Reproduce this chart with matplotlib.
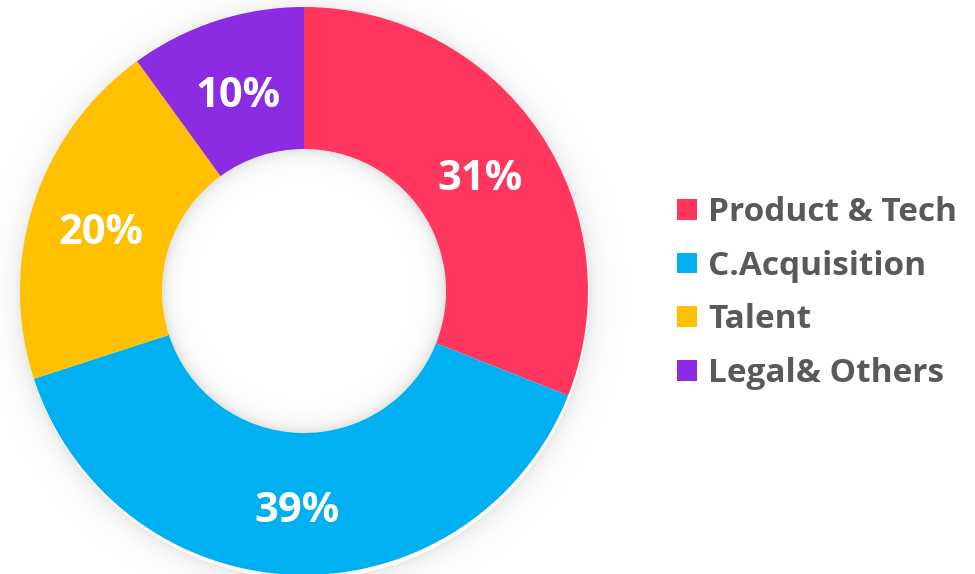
import numpy as np
import matplotlib.pyplot as plt
from matplotlib.patches import Wedge, Patch

labels = ['Product & Tech', 'C.Acquisition', 'Talent', 'Legal& Others']
shares = [31, 39, 20, 10]
colors = ['#FF375F', '#00B0F0', '#FFC000', '#8B2BE2']

fig = plt.figure(figsize=(9.75, 5.74), dpi=100)
ax = fig.add_axes([0, 0, 1, 1])
ax.set_xlim(0, 975)
ax.set_ylim(0, 574)
ax.set_aspect('equal')
ax.axis('off')

cx, cy = 304, 283
R = 284
w = 0.5

# soft shadow outside the ring
for k in range(1, 38):
    a = 0.08 * np.exp(-k / 10.0)
    ax.add_patch(Wedge((cx + 1, cy - 4), R + k, 0, 360, width=1.2,
                       color='black', alpha=a, lw=0, zorder=0))
# inner shadow in the hole
for k in range(1, 34):
    a = 0.1 * np.exp(-k / 8.0)
    ax.add_patch(Wedge((cx, cy), R * (1 - w) - k + 1, 0, 360, width=1.2,
                       color='black', alpha=a, lw=0, zorder=3))

wedges, texts, autotexts = ax.pie(
    shares, colors=colors, startangle=90, counterclock=False,
    center=(cx, cy), radius=R, autopct='%d%%', pctdistance=0.75,
    wedgeprops=dict(width=R * w, linewidth=0),
    textprops=dict(color='white', fontsize=30, fontweight='bold',
                   family='Open Sans'))
ax.set_xlim(0, 975)
ax.set_ylim(0, 574)
for wd in wedges:
    wd.set_zorder(2)
for t in autotexts:
    t.set_zorder(4)
    t.set_va('center_baseline')
    x, y = t.get_position()
    t.set_position((x, y - 3))

handles = [Patch(facecolor=c, edgecolor='none') for c in colors]
leg = ax.legend(handles, labels, loc='center left',
                bbox_to_anchor=(664 / 975, 1 - 293 / 574),
                frameon=False, handlelength=0.58, handleheight=0.58,
                handletextpad=0.35, labelspacing=0.62, borderaxespad=0,
                prop=dict(family='Open Sans', weight='bold', size=24))
for t in leg.get_texts():
    t.set_color('#595959')

fig.savefig('out.png', dpi=100)
